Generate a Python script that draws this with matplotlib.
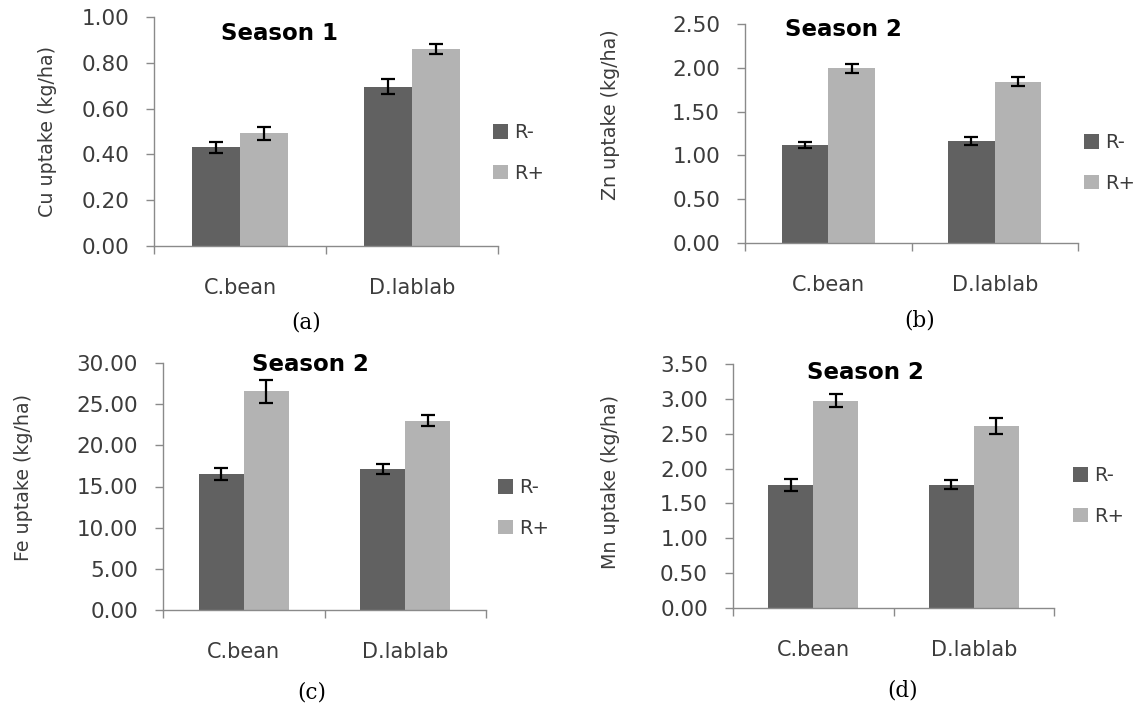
import matplotlib
matplotlib.use("Agg")
import matplotlib.pyplot as plt
import numpy as np

categories = ["C.bean", "D.lablab"]
series = ["R-", "R+"]

cu_rminus = [0.431, 0.696]
cu_rplus = [0.492, 0.860]
cu_err_minus = [0.023, 0.033]
cu_err_plus = [0.027, 0.023]

zn_rminus = [1.115, 1.168]
zn_rplus = [1.994, 1.841]
zn_err_minus = [0.036, 0.044]
zn_err_plus = [0.048, 0.053]

fe_rminus = [16.5, 17.15]
fe_rplus = [26.55, 22.98]
fe_err_minus = [0.73, 0.61]
fe_err_plus = [1.38, 0.67]

mn_rminus = [1.767, 1.767]
mn_rplus = [2.975, 2.612]
mn_err_minus = [0.084, 0.067]
mn_err_plus = [0.095, 0.112]

ylabels = ["Cu uptake (kg/ha)", "Zn uptake (kg/ha)", "Fe uptake (kg/ha)", "Mn uptake (kg/ha)"]
titles = ["Season 1", "Season 2", "Season 2", "Season 2"]
panel_tags = ["(a)", "(b)", "(c)", "(d)"]
y_ticks = [np.arange(0, 1.01, 0.2), np.arange(0, 2.51, 0.5), np.arange(0, 30.1, 5), np.arange(0, 3.51, 0.5)]

FONT = ["DejaVu Sans"]
plt.rcParams['font.family'] = FONT

W, H = 1136, 711
fig = plt.figure(figsize=(W / 100, H / 100), dpi=100)
fig.patch.set_facecolor("white")

# axes boxes in pixels: left, top, right, bottom
boxes = [(154, 17, 498, 246), (745, 24, 1078, 243), (163, 363, 486, 610), (733, 364, 1054, 608)]
title_pos = [(0.366, 0.926), (0.297, 0.977), (0.455, 0.992), (0.414, 0.967)]
ylabel_pos = [(-0.282, 0.5), (-0.375, 0.584), (-0.402, 0.538), (-0.352, 0.516)]
legend_pos = [(493, 153), (1084, 163), (498, 508), (1073, 496)]
tag_pos = [(306, 322), (920, 320), (312, 693), (903, 691)]

data = [
    (cu_rminus, cu_rplus, cu_err_minus, cu_err_plus),
    (zn_rminus, zn_rplus, zn_err_minus, zn_err_plus),
    (fe_rminus, fe_rplus, fe_err_minus, fe_err_plus),
    (mn_rminus, mn_rplus, mn_err_minus, mn_err_plus),
]

dark = "#616161"
light = "#b3b3b3"
axis_col = "#8a8a8a"
text_col = "#3c3c3c"
bw = 0.28

for i, (l, t, r, b) in enumerate(boxes):
    ax = fig.add_axes([l / W, 1 - b / H, (r - l) / W, (b - t) / H])
    rm, rp, em, ep = data[i]
    x = np.arange(len(categories)) + 0.5
    ax.bar(x - bw / 2, rm, bw, color=dark, label=series[0], zorder=2)
    ax.bar(x + bw / 2, rp, bw, color=light, label=series[1], zorder=2)
    ax.errorbar(x - bw / 2, rm, yerr=em, fmt="none", ecolor="black", elinewidth=1.6,
                capsize=5, capthick=1.6, zorder=3)
    ax.errorbar(x + bw / 2, rp, yerr=ep, fmt="none", ecolor="black", elinewidth=1.6,
                capsize=5, capthick=1.6, zorder=3)
    ax.set_xlim(0, 2)
    yt = y_ticks[i]
    ax.set_ylim(0, yt[-1])
    ax.set_yticks(yt)
    ax.set_yticklabels([f"{v:.2f}" for v in yt])
    ax.set_xticks([0, 1, 2])
    ax.set_xticklabels([])
    ax.set_xticks(x, minor=True)
    ax.set_xticklabels(categories, minor=True)
    ax.tick_params(axis="x", which="major", length=6, width=1, color=axis_col, direction="out")
    ax.tick_params(axis="x", which="minor", length=0, pad=23, labelsize=15, labelcolor=text_col)
    ax.tick_params(axis="y", length=6, width=1, color=axis_col, direction="out", pad=12,
                   labelsize=15.5, labelcolor=text_col)
    for s in ["top", "right"]:
        ax.spines[s].set_visible(False)
    for s in ["left", "bottom"]:
        ax.spines[s].set_color(axis_col)
        ax.spines[s].set_linewidth(1)
    ax.set_ylabel(ylabels[i], fontsize=13.7, color=text_col)
    ax.yaxis.set_label_coords(*ylabel_pos[i])
    ax.text(title_pos[i][0], title_pos[i][1], titles[i], transform=ax.transAxes,
            ha="center", va="center", fontsize=16.5, fontweight="bold", color="black")
    lx, ly = legend_pos[i]
    leg = ax.legend(loc="center left", bbox_to_anchor=(lx / W, 1 - ly / H),
                    bbox_transform=fig.transFigure, frameon=False, fontsize=14,
                    handlelength=0.78, handleheight=0.78, handletextpad=0.3,
                    labelspacing=1.1, borderpad=0, borderaxespad=0)
    for txt in leg.get_texts():
        txt.set_color(text_col)
    tx, ty = tag_pos[i]
    fig.text(tx / W, 1 - ty / H, panel_tags[i], ha="center", va="center",
             fontsize=15.5, family=["DejaVu Serif"], color="black")

fig.savefig("out.png", dpi=100, facecolor="white")
